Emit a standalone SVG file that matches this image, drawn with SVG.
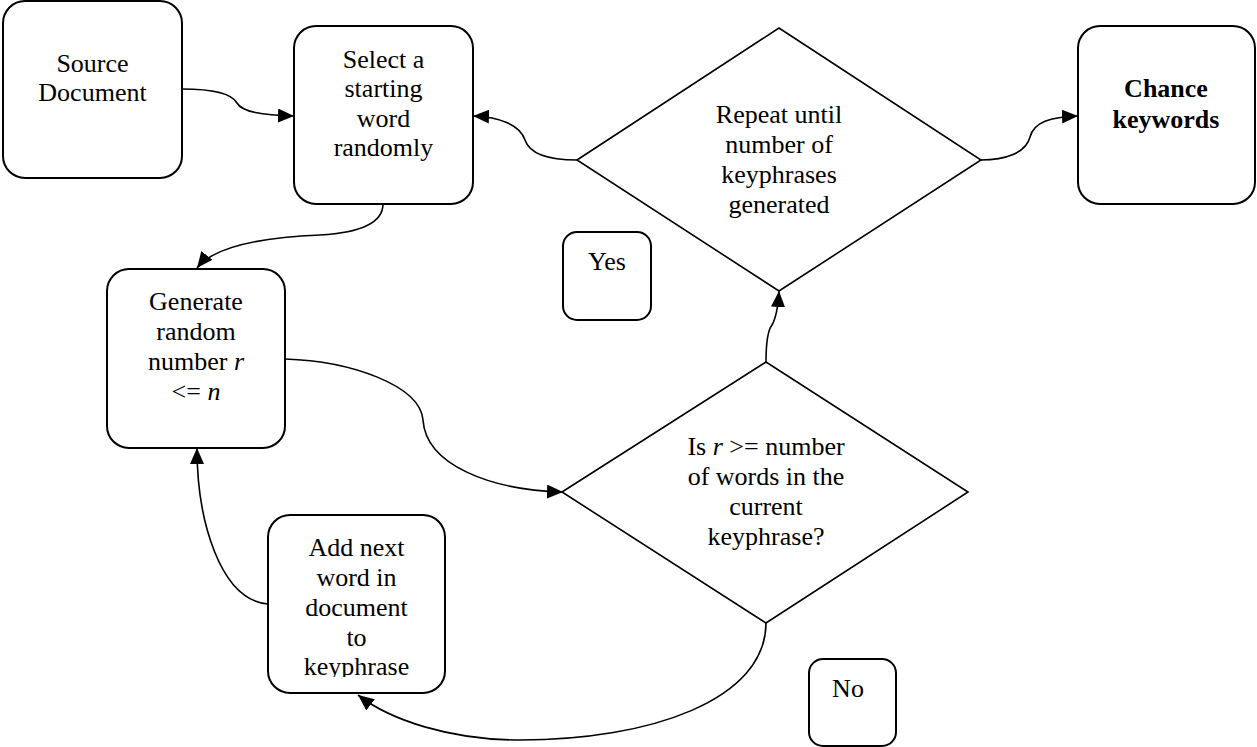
<svg xmlns="http://www.w3.org/2000/svg" width="1257" height="747" viewBox="0 0 1257 747">
<style>
.box{fill:#fff;stroke:#000;stroke-width:2}
.dia{fill:#fff;stroke:#000;stroke-width:1.6}
.t{font-family:'Liberation Serif','DejaVu Serif',serif;font-size:26px;fill:#000;text-anchor:middle}
.b{font-weight:bold}
.con{fill:none;stroke:#000;stroke-width:1.6;marker-end:url(#ah)}
</style>
<defs>
<marker id="ah" viewBox="0 0 16 14" refX="16" refY="7" markerWidth="16" markerHeight="14" markerUnits="userSpaceOnUse" orient="auto">
<path d="M0,0 L16,7 L0,14 Z" fill="#000"/>
</marker>
<clipPath id="clipAdd"><rect x="268" y="515" width="177" height="162"/></clipPath>
</defs>
<rect width="1257" height="747" fill="#fff"/>
<g id="connectors">
<path class="con" d="M182,89 C215,89 232,94 237,103 C242,112 262,115 294,116"/>
<path class="con" d="M577,160 C550,160 530,155 525,140 C520,125 500,117 473,116"/>
<path class="con" d="M981,160 C1005,160 1026,153 1030,137 C1034,122 1050,117 1078,116"/>
<path class="con" d="M383,204 C383,225 355,233 320,235 C270,237 215,245 197,268"/>
<path class="con" d="M285,359 C350,361 420,385 423,420 C426,465 490,490 563,492"/>
<path class="con" d="M766,362 C766,340 768,330 772,325 C776,318 778,308 779,291"/>
<path class="con" d="M766,623 C766,700 650,740 520,740 C450,740 390,720 358,695"/>
<path class="con" d="M268,604 C220,600 197,520 197,448"/>
</g>
<g id="source">
<rect class="box" x="3" y="1" width="179" height="177" rx="22"/>
<text class="t" x="92.5" y="71.5" font-family="Liberation Serif, serif">Source</text>
<text class="t" x="92.5" y="100.5" font-family="Liberation Serif, serif">Document</text>
</g>
<g id="select">
<rect class="box" x="294" y="26" width="179" height="178" rx="22"/>
<text class="t" x="383.5" y="67.5">Select a</text>
<text class="t" x="383.5" y="97">starting</text>
<text class="t" x="383.5" y="126.5">word</text>
<text class="t" x="383.5" y="156">randomly</text>
</g>
<g id="repeat">
<polygon class="dia" points="577,160 779,28 981,160 779,291"/>
<text class="t" x="779" y="123">Repeat until</text>
<text class="t" x="779" y="153">number of</text>
<text class="t" x="779" y="183">keyphrases</text>
<text class="t" x="779" y="213">generated</text>
</g>
<g id="chance">
<rect class="box" x="1078" y="26" width="177" height="178" rx="22"/>
<text class="t b" x="1166" y="97">Chance</text>
<text class="t b" x="1166" y="127.5">keywords</text>
</g>
<g id="yes">
<rect class="box" x="563" y="232" width="88" height="88" rx="14"/>
<text class="t" x="607" y="270">Yes</text>
</g>
<g id="generate">
<rect class="box" x="107" y="269" width="178" height="179" rx="22"/>
<text class="t" x="196" y="310">Generate</text>
<text class="t" x="196" y="340">random</text>
<text class="t" x="196" y="370">number <tspan font-style="italic">r</tspan></text>
<text class="t" x="196" y="400">&lt;= <tspan font-style="italic">n</tspan></text>
</g>
<g id="isr">
<polygon class="dia" points="562,492 766,362 968,492 766,623"/>
<text class="t" x="766" y="455">Is <tspan font-style="italic">r</tspan> &gt;= number</text>
<text class="t" x="766" y="485">of words in the</text>
<text class="t" x="766" y="515">current</text>
<text class="t" x="766" y="545">keyphrase?</text>
</g>
<g id="addnext">
<rect class="box" x="268" y="515" width="177" height="178" rx="22"/>
<g clip-path="url(#clipAdd)">
<text class="t" x="356.5" y="556">Add next</text>
<text class="t" x="356.5" y="586">word in</text>
<text class="t" x="356.5" y="615.5">document</text>
<text class="t" x="356.5" y="645.5">to</text>
<text class="t" x="356.5" y="675">keyphrase</text>
</g>
</g>
<g id="no">
<rect class="box" x="809" y="659" width="87" height="87" rx="14"/>
<text class="t" x="848" y="697">No</text>
</g>
</svg>
